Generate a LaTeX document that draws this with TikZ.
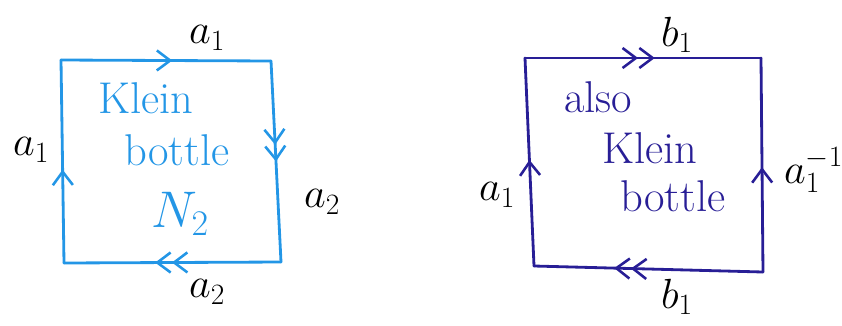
\RequirePackage{fix-cm}
\documentclass[tikz,border=0pt]{standalone}
\usepackage{amsmath}
\usepackage{xcolor}
\usetikzlibrary{arrows.meta,decorations.markings}
\definecolor{kbright}{RGB}{35,150,230}
\definecolor{kbdark}{RGB}{40,30,150}
\tikzset{
  sqedge/.style={line width=2.4pt, line cap=round},
  onearr/.style={postaction={decorate, decoration={markings,
    mark=at position #1 with {\arrow{Straight Barb[length=4mm,width=6mm,line width=2.2pt]}}}}},
  twoarr/.style={postaction={decorate, decoration={markings,
    mark=at position #1 with {\arrow{Straight Barb[length=4mm,width=6mm,line width=2.2pt] Straight Barb[length=4mm,width=6mm,line width=2.2pt]}}}}},
  edgelbl/.style={font=\fontsize{36}{38}\selectfont, text=black},
  inlbl/.style={font=\fontsize{38}{40}\selectfont},
}
\begin{document}
\begin{tikzpicture}[x=0.03cm,y=-0.03cm]
  \useasboundingbox (0,0) rectangle (842,325);
  % first square, Klein bottle N2
  \coordinate (ltl) at (61,60);
  \coordinate (ltr) at (271,61);
  \coordinate (lbr) at (281,262);
  \coordinate (lbl) at (64,263);
  \draw[sqedge, kbright, onearr=0.53] (ltl) -- (ltr);
  \draw[sqedge, kbright, twoarr=0.50] (ltr) -- (lbr);
  \draw[sqedge, kbright, twoarr=0.58] (lbr) -- (lbl);
  \draw[sqedge, kbright, onearr=0.46] (lbl) -- (ltl);
  \node[edgelbl] (ltop) at (207,38) {$a_1$};
  \node[edgelbl] (lleft) at (31,150) {$a_1$};
  \node[edgelbl] (lright) at (322,202) {$a_2$};
  \node[edgelbl] (lbot) at (207,292) {$a_2$};
  \node[inlbl, text=kbright] (lklein) at (146,98) {Klein};
  \node[inlbl, text=kbright] (lbottle) at (177,150) {bottle};
  \node[font=\fontsize{44}{46}\selectfont, text=kbright] (lname) at (180,214) {$N_2$};
  % second square, also Klein bottle
  \coordinate (rtl) at (525,58);
  \coordinate (rtr) at (761,58);
  \coordinate (rbr) at (763,272);
  \coordinate (rbl) at (534,266);
  \draw[sqedge, kbdark, twoarr=0.55] (rtl) -- (rtr);
  \draw[sqedge, kbdark, twoarr=0.65] (rbr) -- (rbl);
  \draw[sqedge, kbdark, onearr=0.51] (rbl) -- (rtl);
  \draw[sqedge, kbdark, onearr=0.49] (rbr) -- (rtr);
  \node[edgelbl] (rtop) at (677,35) {$b_1$};
  \node[edgelbl] (rleft) at (497,195) {$a_1$};
  \node[edgelbl, anchor=west] (rright) at (780,170) {$a_1^{-1}$};
  \node[edgelbl] (rbot) at (677,297) {$b_1$};
  \node[inlbl, text=kbdark] (ralso) at (598,97) {also};
  \node[inlbl, text=kbdark] (rklein) at (650,148) {Klein};
  \node[inlbl, text=kbdark] (rbottle) at (673,196) {bottle};
\end{tikzpicture}
\end{document}
